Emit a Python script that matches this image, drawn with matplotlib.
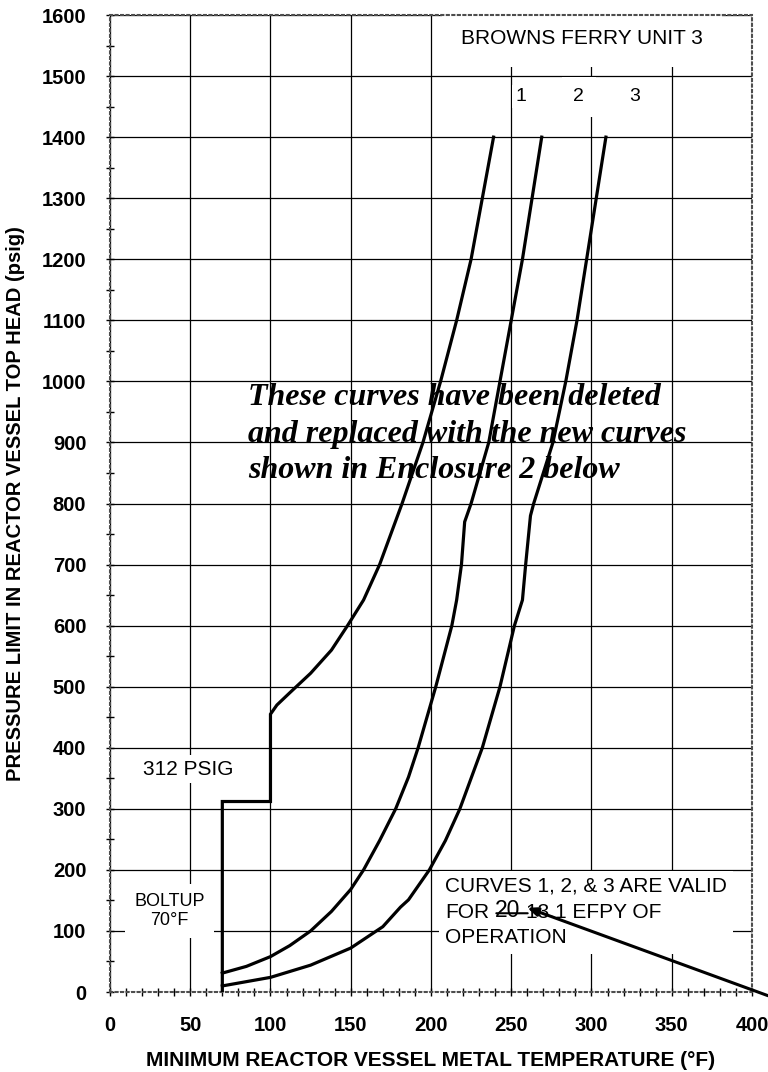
import numpy as np
import matplotlib.pyplot as plt
from matplotlib.ticker import MultipleLocator

plt.rcParams['font.family'] = ['Liberation Sans', 'DejaVu Sans']

# ---- data ----
# curve 1 (includes the boltup step at 70 F / 312 psig and the jump at 100 F)
temp_1 = [70, 70, 100, 100, 104, 112, 125, 138, 148, 158, 168, 182, 195, 206, 216, 225, 232, 239]
pres_1 = [0, 312, 312, 455, 470, 490, 522, 560, 600, 642, 700, 800, 900, 1000, 1100, 1200, 1300, 1400]

temp_2 = [70, 85, 100, 112, 125, 138, 150, 158, 168, 178, 186, 192, 203, 213, 216, 219, 221, 225, 236, 243, 250, 257, 263, 269]
pres_2 = [31, 42, 58, 76, 100, 132, 168, 200, 248, 300, 352, 400, 500, 600, 642, 700, 770, 800, 900, 1000, 1100, 1200, 1300, 1400]

temp_3 = [70, 85, 100, 125, 150, 170, 181, 186, 199, 209, 218, 232, 243, 252, 257, 259, 262, 264, 276, 284, 291, 297, 303, 309]
pres_3 = [10, 17, 24, 44, 72, 107, 139, 151, 200, 248, 300, 400, 500, 600, 642, 700, 780, 800, 900, 1000, 1100, 1200, 1300, 1400]

curve_labels = ['1', '2', '3']
curve_label_x = [256, 292, 327]
curve_label_y = 1466
curve_label_pad = [0.15, 0.6, 0.2]   # only the box round "2" hides a grid line

x_ticks = np.arange(0, 401, 50)
y_ticks = np.arange(0, 1601, 100)

# ---- figure ----
fig = plt.figure(figsize=(7.68, 10.72), dpi=100)
fig.set_facecolor('white')
ax = fig.add_axes([0.1432, 0.0746, 0.8359, 0.9114])

ax.set_xlim(0, 400)
ax.set_ylim(0, 1600)
ax.set_xticks(x_ticks)
ax.set_yticks(y_ticks)
ax.xaxis.set_minor_locator(MultipleLocator(10))
ax.yaxis.set_minor_locator(MultipleLocator(50))

ax.grid(True, which='major', color='black', linewidth=0.9)
ax.set_axisbelow(True)

for spine in ax.spines.values():
    spine.set_linestyle(':')
    spine.set_linewidth(1.5)
    spine.set_color('0.3')
    spine.set_zorder(3)

ax.tick_params(axis='both', which='major', direction='inout', length=6, width=1,
               labelsize=14.5, pad=14)
ax.tick_params(axis='both', which='minor', direction='inout', length=6, width=1)
for label in ax.get_xticklabels() + ax.get_yticklabels():
    label.set_fontweight('bold')

ax.set_xlabel('MINIMUM REACTOR VESSEL METAL TEMPERATURE (°F)', fontsize=15,
              fontweight='bold', labelpad=12)
ax.set_ylabel('PRESSURE LIMIT IN REACTOR VESSEL TOP HEAD (psig)', fontsize=14.5,
              fontweight='bold', labelpad=12)

# curves
for t, p in [(temp_1, pres_1), (temp_2, pres_2), (temp_3, pres_3)]:
    ax.plot(t, p, color='black', linewidth=2.3, solid_joinstyle='miter', zorder=4)

# labels and notes (white boxes sit above the grid, below spines and curves)
box = dict(facecolor='white', edgecolor='none')
ax.text(294, 1561, 'BROWNS FERRY UNIT 3', fontsize=15, ha='center', va='center',
        bbox=dict(box, boxstyle='square,pad=0.9'), zorder=2)
for lab, lx, lp in zip(curve_labels, curve_label_x, curve_label_pad):
    ax.text(lx, curve_label_y, lab, fontsize=14, ha='center', va='center',
            bbox=dict(box, boxstyle=f'square,pad={lp}'), zorder=2)

ax.text(49, 365, '312 PSIG', fontsize=15, ha='center', va='center',
        bbox=dict(box, boxstyle='square,pad=0.2'), zorder=2)
ax.text(37, 133, 'BOLTUP\n70°F', fontsize=13, ha='center', va='center', linespacing=1.15,
        bbox=dict(box, boxstyle='square,pad=0.5'), zorder=2)

ax.text(208.7, 131, 'CURVES 1, 2, & 3 ARE VALID\nFOR\nOPERATION', fontsize=15,
        ha='left', va='center', linespacing=1.45,
        bbox=dict(box, boxstyle='square,pad=0.3'), zorder=2)
ax.text(240, 133, '20', fontsize=16.5, ha='left', va='center', zorder=5)
ax.text(259, 131, '13.1 EFPY OF', fontsize=15, ha='left', va='center', zorder=5)
ax.annotate('', xy=(239, 129), xytext=(262, 129),
            arrowprops=dict(arrowstyle='-', color='black', lw=1.5), zorder=5)
ax.annotate('', xy=(260, 138), xytext=(410, -6), annotation_clip=False,
            arrowprops=dict(arrowstyle='-|>,head_length=0.6,head_width=0.25',
                            color='black', lw=2.2, shrinkA=0, shrinkB=0), zorder=5)

note_lines = ['These curves have been deleted',
              'and replaced with the new curves',
              'shown in Enclosure 2 below']
note_y = [961, 901, 842]
for line, ny in zip(note_lines, note_y):
    ax.text(86, ny, line, fontsize=23, family=['Liberation Serif', 'DejaVu Serif'],
            fontweight='bold', fontstyle='italic', ha='left', va='baseline', zorder=6)

plt.savefig('out.png', dpi=100, facecolor='white')
